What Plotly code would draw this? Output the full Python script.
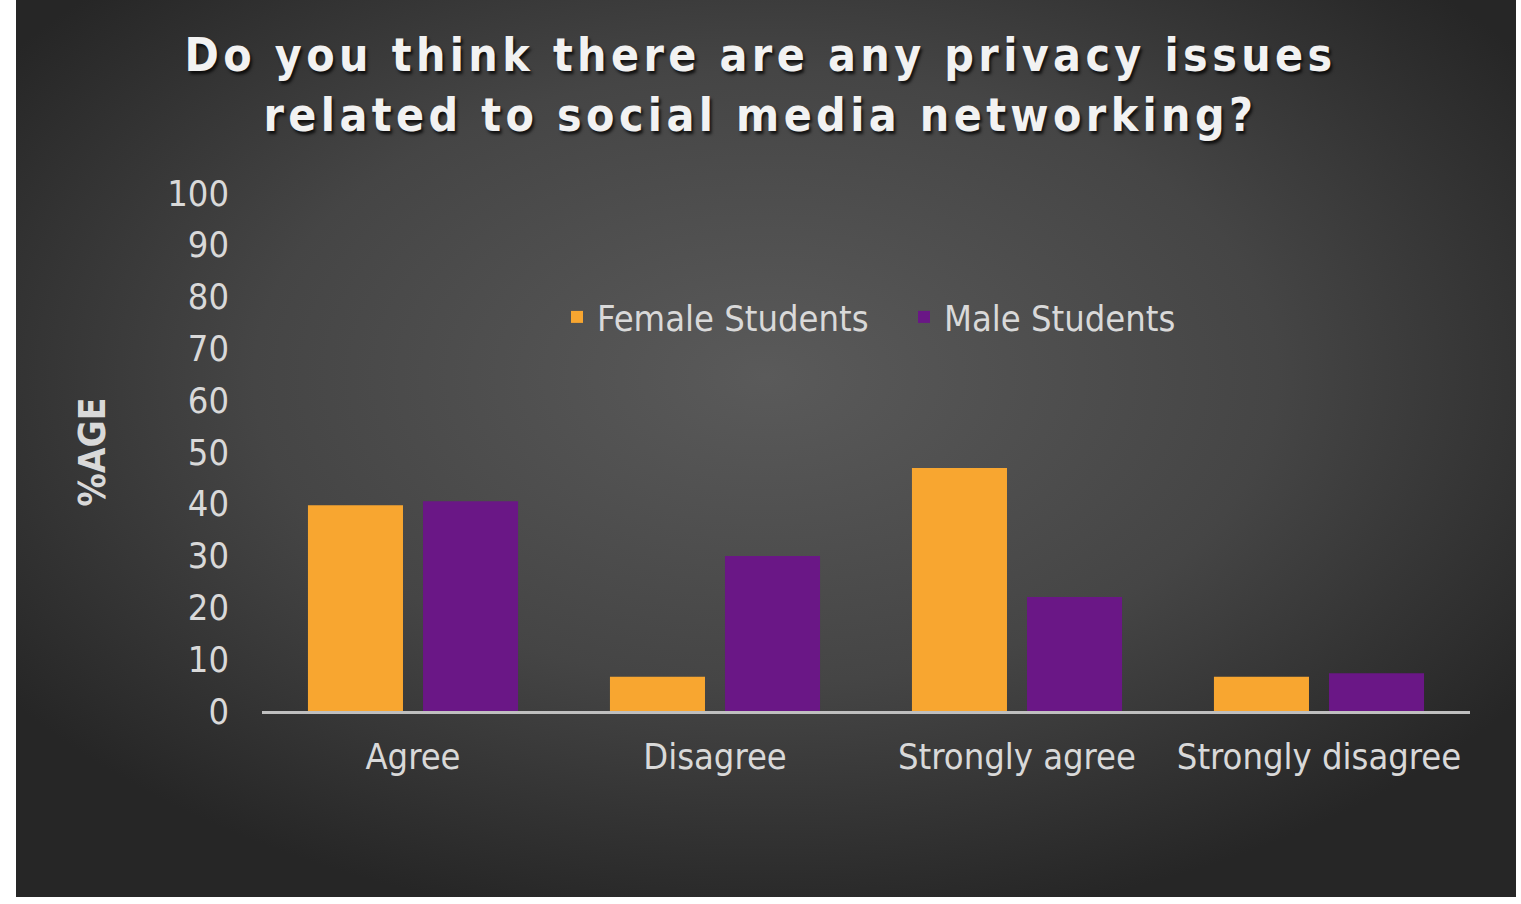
import base64
import plotly.graph_objects as go

categories = ["Agree", "Disagree", "Strongly agree", "Strongly disagree"]
female = [39.7, 6.6, 46.9, 6.6]
male = [40.5, 29.9, 22.0, 7.3]
y_ticks = [0, 10, 20, 30, 40, 50, 60, 70, 80, 90, 100]

TITLE = "Do you think there are any privacy issues<br>related to social media networking?"
FONT = "DejaVu Sans Condensed, DejaVu Sans, sans-serif"

W, H = 1521, 904
L, R, T, B = 262, 51, 193, 193
PW, PH = W - L - R, H - T - B

svg = (
    '<svg xmlns="http://www.w3.org/2000/svg" width="1500" height="897" preserveAspectRatio="none">'
    '<defs><radialGradient id="g" cx="0.5" cy="0.42" r="0.62">'
    '<stop offset="0" stop-color="#5a5a5a"/><stop offset="0.55" stop-color="#454545"/>'
    '<stop offset="1" stop-color="#262626"/></radialGradient></defs>'
    '<rect width="1500" height="897" fill="url(#g)"/></svg>'
)
bg_src = "data:image/svg+xml;base64," + base64.b64encode(svg.encode()).decode()

fig = go.Figure()
fig.add_trace(go.Bar(name="Female Students", x=categories, y=female,
                     marker=dict(color="#F8A630", line=dict(width=0))))
fig.add_trace(go.Bar(name="Male Students", x=categories, y=male,
                     marker=dict(color="#6A1786", line=dict(width=0))))

# background panel in pixel space 16..1516 x 0..897
x0 = (16 - L) / PW
x1 = (1516 - L) / PW
ytop = (H - B - 0) / PH
ybot = (H - B - 897) / PH

fig.update_layout(
    width=W, height=H,
    margin=dict(l=L, r=R, t=T, b=B),
    paper_bgcolor="white",
    plot_bgcolor="rgba(0,0,0,0)",
    barmode="group",
    bargap=0.238,
    bargroupgap=0.174,
    font=dict(family=FONT, color="#D9D9D9", size=36),
    title=dict(
        text=TITLE,
        x=0.5, xref="container", xanchor="center",
        y=1 - 71 / H, yref="container", yanchor="top",
        font=dict(family=FONT, size=46, color="#F2F2F2", weight="bold",
                  shadow="2px 3px 3px rgba(0,0,0,0.75)"),
    ),
    legend=dict(
        orientation="h",
        x=(557 - L) / PW, xanchor="left",
        y=(H - B - 317) / PH, yanchor="middle",
        font=dict(family=FONT, size=36, color="#D9D9D9"),
        bgcolor="rgba(0,0,0,0)",
        entrywidth=302, entrywidthmode="pixels",
        itemclick=False,
    ),
    images=[dict(
        source=bg_src, xref="paper", yref="paper",
        x=x0, y=ytop, sizex=x1 - x0, sizey=ytop - ybot,
        xanchor="left", yanchor="top", sizing="stretch", layer="below",
    )],
    xaxis=dict(
        showline=True, linecolor="#BFBFBF", linewidth=3,
        showgrid=False, ticks="", ticklabelstandoff=12,
        tickfont=dict(family=FONT, size=36, color="#D9D9D9"),
    ),
    yaxis=dict(
        range=[0, 100], tickvals=y_ticks, showgrid=False, zeroline=False,
        showline=False, ticks="", ticklabelstandoff=32,
        tickfont=dict(family=FONT, size=36, color="#D9D9D9"),
        title=dict(text="%AGE", standoff=50,
                   font=dict(family=FONT, size=37, color="#D9D9D9", weight="bold")),
    ),
    showlegend=True,
)

post = """
document.body.style.margin='0';
var gd=document.getElementById('{plot_id}');
gd.querySelectorAll('.gtitle').forEach(function(t){t.style.letterSpacing='4.4px';});
"""
fig.write_html("out.html", post_script=post, config={"displayModeBar": False})
